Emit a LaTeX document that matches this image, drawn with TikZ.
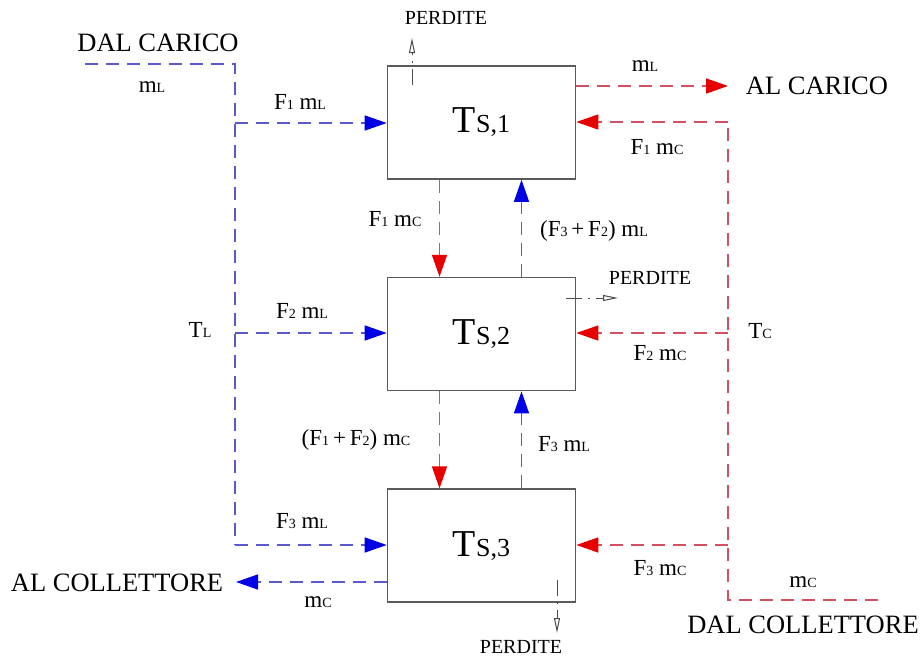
\documentclass[tikz,border=0pt]{standalone}
\usepackage{fontspec}
\setmainfont{Liberation Serif}
\usepackage{tikz}
\usetikzlibrary{arrows.meta,positioning}
\definecolor{FlowBlue}{HTML}{5A5ACD}
\definecolor{FlowRed}{HTML}{D2505F}
\definecolor{TipBlue}{HTML}{0000E6}
\definecolor{TipRed}{HTML}{E60000}
\definecolor{BoxGray}{HTML}{5A5A5A}
\newcommand{\sublbl}[1]{{\fontsize{14}{14}\selectfont #1}}
\newcommand{\tanklbl}[1]{{\fontsize{38}{40}\selectfont T}{\fontsize{26}{28}\selectfont S,#1}}
\tikzset{
  tank/.style={draw=BoxGray, line width=1.6pt, minimum width=188pt,
    minimum height=113pt, inner sep=0pt},
  coldline/.style={draw=FlowBlue, line width=1.4pt, dash pattern=on 13pt off 8pt},
  hotline/.style={draw=FlowRed, line width=1.4pt, dash pattern=on 13pt off 8pt},
  coldflow/.style={coldline, -{Triangle[length=22pt,width=15pt,color=TipBlue]}},
  hotflow/.style={hotline, -{Triangle[length=22pt,width=15pt,color=TipRed]}},
  lossflow/.style={draw=black!70, line width=1pt,
    dash pattern=on 16pt off 6pt on 2pt off 6pt,
    -{Triangle[open,length=15pt,width=6pt]}},
  flowlbl/.style={font=\fontsize{23}{25}\selectfont, inner sep=0pt},
  endlbl/.style={font=\fontsize{26.5}{28}\selectfont, inner sep=0pt},
  losslbl/.style={font=\fontsize{20}{22}\selectfont, inner sep=0pt}
}
\begin{document}
\begin{tikzpicture}[x=1pt,y=-1pt,node distance=97pt]
  \useasboundingbox (0,0) rectangle (920,659);
  \node[tank] (box1) at (481.5,122.5) {\tanklbl{1}};
  \node[tank, below=of box1] (box2) {\tanklbl{2}};
  \node[tank, below=of box2] (box3) {\tanklbl{3}};
  \coordinate (inL) at (85,64);
  \coordinate (cornerL) at (235,64);
  \coordinate (jL1) at (235,123);
  \coordinate (jL2) at (235,333);
  \coordinate (jL3) at (235,545);
  \coordinate (inC) at (878,600);
  \coordinate (cornerC) at (728,600);
  \coordinate (jC1) at (728,122);
  \coordinate (jC2) at (728,333);
  \coordinate (jC3) at (728,545);
  \coordinate (outL) at (728,86);
  \coordinate (outC) at (236,582);
  \coordinate (leak1) at (412,85);
  \coordinate (loss1) at (412,38);
  \coordinate (leak2) at (566,298);
  \coordinate (loss2) at (618,298);
  \coordinate (leak3) at (557,580);
  \coordinate (loss3) at (557,633);
  \draw[coldline] (inL) -- (cornerL) -- (jL3);
  \draw[hotline] (inC) -- (cornerC) -- (jC1);
  \foreach \n in {1,2,3} {
    \draw[coldflow] (jL\n) -- (jL\n -| box\n.west);
    \draw[hotflow] (jC\n) -- (jC\n -| box\n.east);
  }
  \draw[hotflow] (box1.east |- outL) -- (outL);
  \draw[coldflow] (box3.west |- outC) -- (outC);
  \draw[hotflow] ([xshift=-42pt]box1.south) -- ([xshift=-42pt]box2.north);
  \draw[hotflow] ([xshift=-42pt]box2.south) -- ([xshift=-42pt]box3.north);
  \draw[coldflow] ([xshift=40pt]box2.north) -- ([xshift=40pt]box1.south);
  \draw[coldflow] ([xshift=40pt]box3.north) -- ([xshift=40pt]box2.south);
  \draw[lossflow] (leak1) -- (loss1);
  \draw[lossflow] (leak2) -- (loss2);
  \draw[lossflow] (leak3) -- (loss3);
  \node[endlbl] (dalcarico) at (158,43) {DAL CARICO};
  \node[flowlbl] (mlin) at (152,87) {m\sublbl{L}};
  \node[flowlbl] (f1ml) at (300,102) {F\sublbl{1} m\sublbl{L}};
  \node[flowlbl] (f2ml) at (302,311) {F\sublbl{2} m\sublbl{L}};
  \node[flowlbl] (f3ml) at (302,521) {F\sublbl{3} m\sublbl{L}};
  \node[flowlbl] (tl) at (200,330) {T\sublbl{L}};
  \node[endlbl] (alcoll) at (117,583) {AL COLLETTORE};
  \node[flowlbl] (mcout) at (318,602) {m\sublbl{C}};
  \node[losslbl] (perdite1) at (446,18) {PERDITE};
  \node[flowlbl] (mlout) at (645,66) {m\sublbl{L}};
  \node[endlbl] (alcarico) at (817,86) {AL CARICO};
  \node[flowlbl] (f1mcr) at (657,147) {F\sublbl{1} m\sublbl{C}};
  \node[flowlbl] (f1mcm) at (395,219) {F\sublbl{1} m\sublbl{C}};
  \node[flowlbl] (f32ml) at (594,231) {(F\sublbl{3}\,+\,F\sublbl{2}) m\sublbl{L}};
  \node[losslbl] (perdite2) at (650,278) {PERDITE};
  \node[flowlbl] (tc) at (760,331) {T\sublbl{C}};
  \node[flowlbl] (f2mc) at (660,353) {F\sublbl{2} m\sublbl{C}};
  \node[flowlbl] (f12mc) at (356,440) {(F\sublbl{1}\,+\,F\sublbl{2}) m\sublbl{C}};
  \node[flowlbl] (f3mlm) at (564,444) {F\sublbl{3} m\sublbl{L}};
  \node[flowlbl] (f3mc) at (660,568) {F\sublbl{3} m\sublbl{C}};
  \node[flowlbl] (mcin) at (803,582) {m\sublbl{C}};
  \node[endlbl] (dalcoll) at (803,625) {DAL COLLETTORE};
  \node[losslbl] (perdite3) at (521,647) {PERDITE};
\end{tikzpicture}
\end{document}
